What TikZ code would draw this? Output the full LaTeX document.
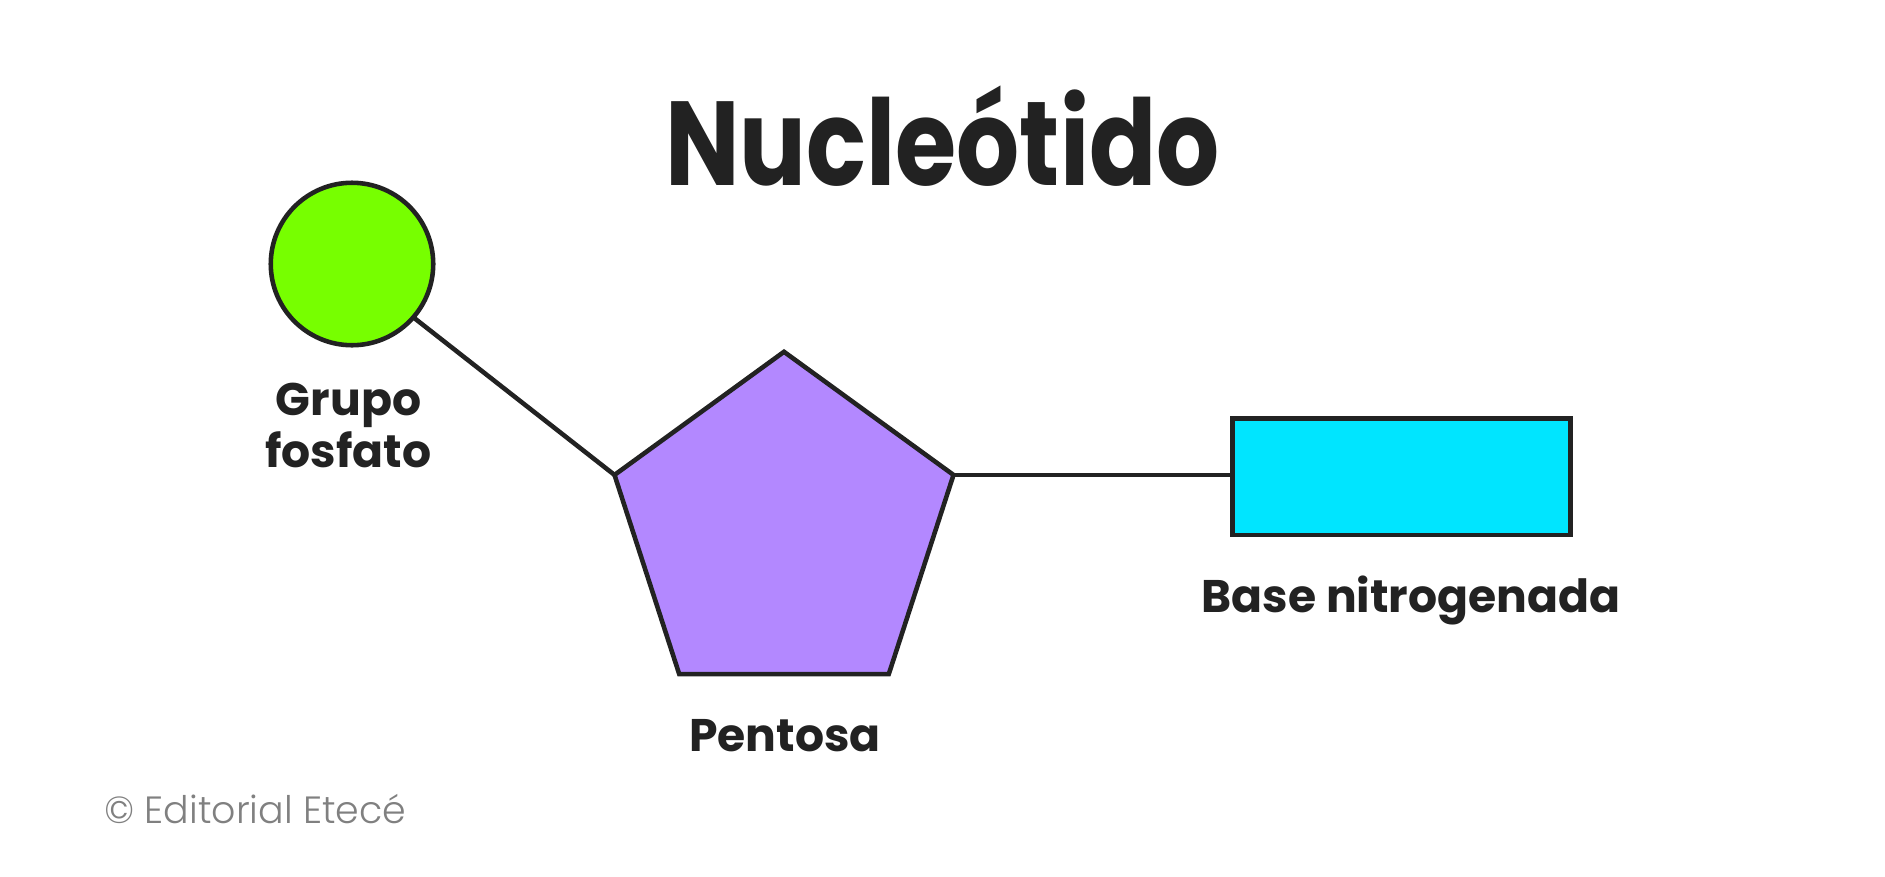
\documentclass[tikz,border=0pt]{standalone}
\usepackage{fontspec}
\usetikzlibrary{shapes.geometric, positioning}
\setmainfont{Poppins}
\newfontfamily\lightfont{Poppins Light}
\newfontface\titlefont[FakeStretch=0.83]{Poppins Bold}
\definecolor{Ink}{HTML}{222222}
\definecolor{Lime}{HTML}{77FF00}
\definecolor{Lilac}{HTML}{B388FF}
\definecolor{Cyan}{HTML}{00E5FF}
\definecolor{Credit}{HTML}{808080}
\tikzset{
    part/.style={draw=Ink, line width=2.6pt, inner sep=0pt, outer sep=0pt},
    bond/.style={draw=Ink, line width=2.6pt},
    partlabel/.style={font=\fontsize{26}{29.4}\selectfont\bfseries, text=Ink, align=center}
}
\begin{document}
\begin{tikzpicture}[x=0.02cm, y=-0.02cm]
    \useasboundingbox (0, 0) rectangle (1885, 876);

    % Title
    \node[font=\fontsize{68}{76}\titlefont, text=Ink] (title) at (942.5, 136) {Nucleótido};

    % Parts
    \node[part, circle, fill=Lime, minimum size=3.25cm] (phosphate) at (352, 264) {};
    \node[part, regular polygon, regular polygon sides=5, fill=Lilac, minimum size=7.13cm] (sugar) at (784, 530) {};
    \node[part, rectangle, fill=Cyan, minimum width=6.76cm, minimum height=2.34cm] (base) at (1401.5, 476.7) {};

    % Bonds
    \draw[bond] (phosphate.-41) -- (sugar.corner 2);
    \draw[bond] (sugar.corner 5) -- (sugar.corner 5 -| base.west);

    % Labels
    \node[partlabel] (phosphatelabel) at (348.5, 425.5) {Grupo\\fosfato};
    \node[partlabel] (sugarlabel) at (785, 736) {Pentosa};
    \node[partlabel] (baselabel) at (1411, 600) {Base nitrogenada};

    % Credit
    \node[font=\fontsize{21.6}{26}\selectfont\lightfont, text=Credit, anchor=west] (credit) at (98, 809) {© Editorial Etecé};
\end{tikzpicture}
\end{document}
